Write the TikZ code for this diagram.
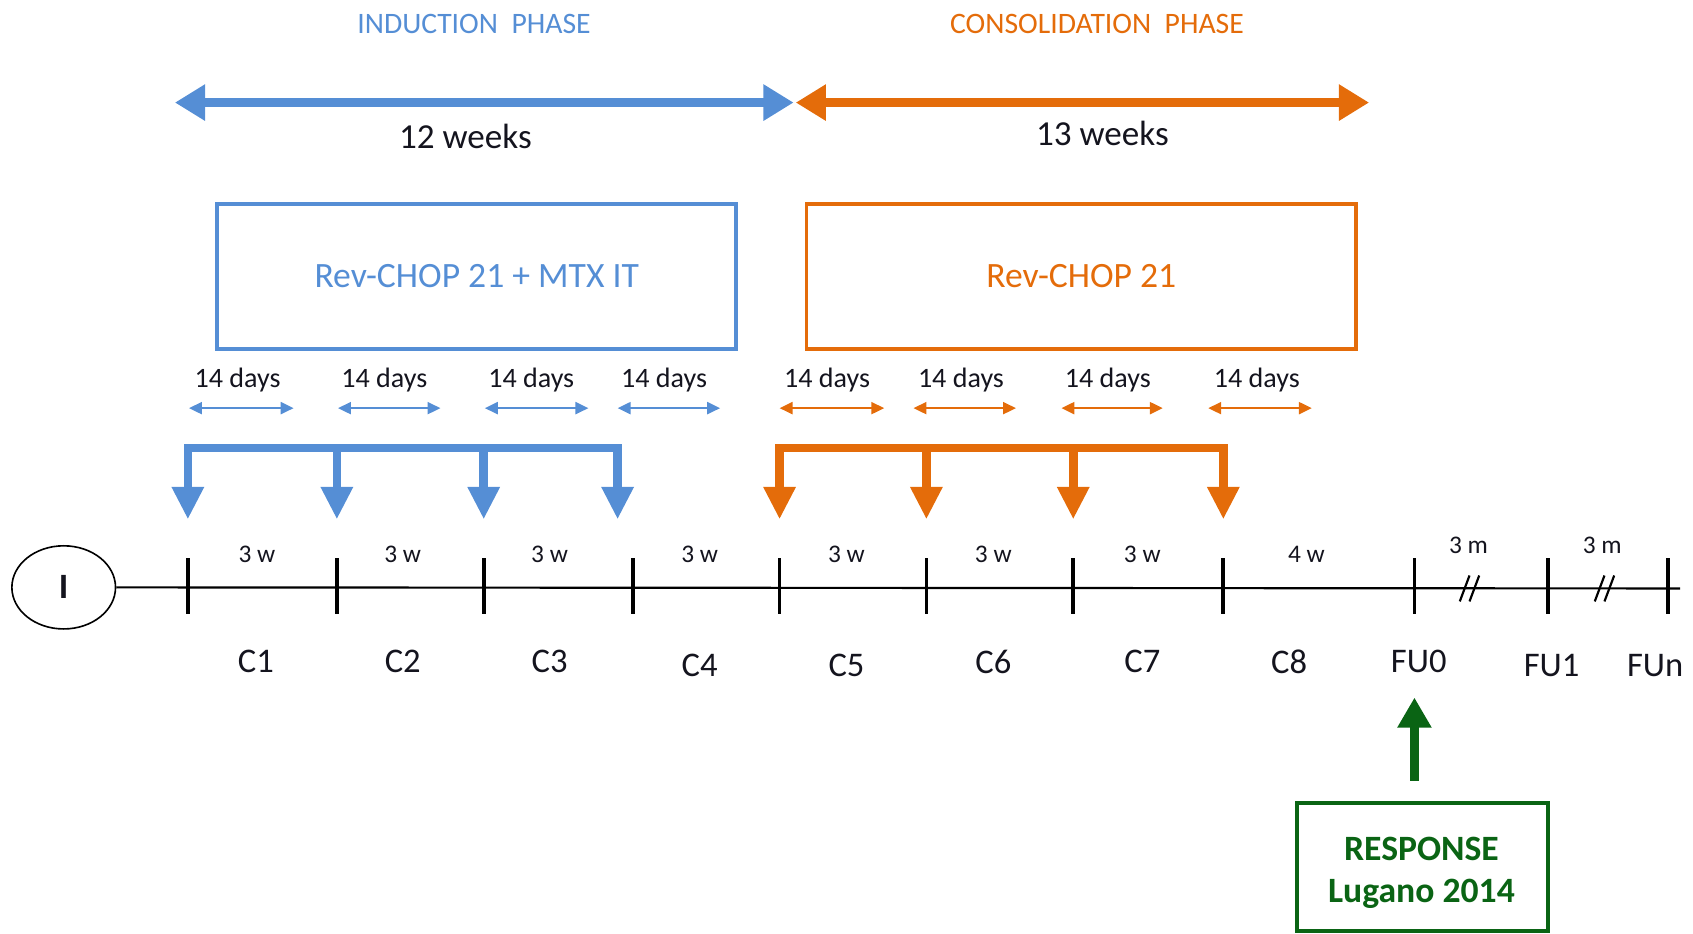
\documentclass[tikz,border=0pt]{standalone}
\usepackage{fontspec}
\setmainfont{Carlito}
\usetikzlibrary{arrows.meta,shapes.geometric}
\definecolor{cblue}{RGB}{85,142,213}
\definecolor{corange}{RGB}{228,108,10}
\definecolor{cgreen}{RGB}{10,100,20}
\definecolor{ctext}{RGB}{20,20,30}
\tikzset{
  phase/.style={inner sep=0pt, font=\fontsize{27.5}{30}\selectfont},
  weeks/.style={inner sep=0pt, text=ctext, font=\fontsize{32.5}{36}\selectfont},
  days/.style={inner sep=0pt, text=ctext, font=\fontsize{26}{29}\selectfont},
  wlab/.style={inner sep=0pt, text=ctext, font=\fontsize{23.5}{26}\selectfont},
  clab/.style={inner sep=0pt, text=ctext, font=\fontsize{32}{35}\selectfont},
  regbox/.style={draw, line width=3.5pt, minimum width=481pt, minimum height=134pt, font=\fontsize{33}{36}\selectfont},
  bigarr/.style={line width=8pt, {Triangle[width=32pt,length=28pt]}-{Triangle[width=32pt,length=28pt]}},
  smallarr/.style={line width=2.2pt, {Triangle[width=11pt,length=12pt]}-{Triangle[width=11pt,length=12pt]}},
  brk/.style={line width=8pt, line cap=rect},
  brkarr/.style={line width=8pt, -{Triangle[width=28pt,length=30pt]}},
  tickline/.style={line width=3.5pt},
}
\begin{document}
\begin{tikzpicture}[x=1pt,y=-1pt]
\useasboundingbox (0,0) rectangle (1568,865);
% phase titles
\node[phase, text=cblue] (indT) at (439,22) {INDUCTION\ \ PHASE};
\node[phase, text=corange] (conT) at (1016,22) {CONSOLIDATION\ \ PHASE};
% big arrows
\coordinate (bA) at (162,95); \coordinate (bB) at (735,95);
\coordinate (oA) at (737,95); \coordinate (oB) at (1268,95);
\draw[bigarr, cblue] (bA) -- (bB);
\draw[bigarr, corange] (oA) -- (oB);
\node[weeks] (w12) at (431,126) {12 weeks};
\node[weeks] (w13) at (1021,124) {13 weeks};
% regimen boxes
\node[regbox, draw=cblue, text=cblue] (rb1) at (441.5,256) {Rev-CHOP 21 + MTX IT};
\node[regbox, draw=corange, text=corange, minimum width=509pt] (rb2) at (1001.5,256) {Rev-CHOP 21};
% 14 days labels and small arrows
\foreach \i/\cx/\l/\r in {1/220/175/272, 2/356/313/408, 3/492/449/545, 4/615/572/667}{
  \node[days] (db\i) at (\cx,352) {14 days};
  \coordinate (dbl\i) at (\l,378); \coordinate (dbr\i) at (\r,378);
  \draw[smallarr, cblue] (dbl\i) -- (dbr\i);
}
\foreach \i/\cx/\l/\r in {1/766/722/819, 2/890/846/941, 3/1026/983/1077, 4/1164/1119/1215}{
  \node[days] (do\i) at (\cx,352) {14 days};
  \coordinate (dol\i) at (\l,378); \coordinate (dor\i) at (\r,378);
  \draw[smallarr, corange] (dol\i) -- (dor\i);
}
% brackets
\foreach \i/\x in {1/174, 2/312, 3/448, 4/572}{
  \coordinate (kb\i) at (\x,415); \coordinate (kbt\i) at (\x,481);
}
\draw[brk, cblue] (kb1) -- (kb4);
\foreach \i in {1,...,4}{ \draw[brkarr, cblue] (kb\i) -- (kbt\i); }
\foreach \i/\x in {1/722, 2/858, 3/994, 4/1133}{
  \coordinate (ko\i) at (\x,415); \coordinate (kot\i) at (\x,481);
}
\draw[brk, corange] (ko1) -- (ko4);
\foreach \i in {1,...,4}{ \draw[brkarr, corange] (ko\i) -- (kot\i); }
% timeline
\node[draw, ellipse, line width=1.5pt, minimum width=96pt, minimum height=77pt, inner sep=0pt, text=ctext, font=\bfseries\fontsize{33}{35}\selectfont] (I) at (59,544) {I};
\coordinate (tlend) at (1556,545);
\draw[line width=2pt] (I.east) -- (tlend);
\foreach \i/\x in {1/174, 2/312, 3/448, 4/586, 5/722, 6/858, 7/994, 8/1133, 9/1310, 10/1434, 11/1545}{
  \coordinate (tt\i) at (\x,517); \coordinate (tb\i) at (\x,569);
  \draw[tickline] (tt\i) -- (tb\i);
}
% interval labels
\foreach \i/\x/\t in {1/238/3 w, 2/373/3 w, 3/509/3 w, 4/648/3 w, 5/784/3 w, 6/920/3 w, 7/1058/3 w, 8/1210/4 w}{
  \node[wlab] (iv\i) at (\x,513) {\t};
}
\node[wlab] (iv9) at (1360,505) {3 m};
\node[wlab] (iv10) at (1484,505) {3 m};
% break marks
\foreach \i/\x in {1/1360, 2/1485}{
  \coordinate (ba\i) at (\x-8,557); \coordinate (bb\i) at (\x+1,533);
  \coordinate (bc\i) at (\x+1,557); \coordinate (bd\i) at (\x+10,533);
  \draw[line width=2pt] (ba\i) -- (bb\i);
  \draw[line width=2pt] (bc\i) -- (bd\i);
}
% cycle labels
\foreach \n/\x/\y in {C1/237/613, C2/373/613, C3/509/613, C4/648/616, C5/784/616, C6/920/613, C7/1058/613, C8/1194/613, FU0/1314/613, FU1/1437/616, FUn/1533/616}{
  \node[clab] (l\n) at (\x,\y) {\n};
}
% response
\node[draw=cgreen, line width=3.5pt, minimum width=233pt, minimum height=119pt] (resp) at (1317.5,803) {};
\node[align=center, inner sep=0pt, text=cgreen, font=\bfseries\fontsize{33}{39}\selectfont] (respT) at (1316.5,808.5) {RESPONSE\\Lugano 2014};
\coordinate (ga) at (1310,723); \coordinate (gb) at (1310,646);
\draw[line width=8pt, cgreen, -{Triangle[width=30pt,length=28pt]}] (ga) -- (gb);
\end{tikzpicture}
\end{document}
